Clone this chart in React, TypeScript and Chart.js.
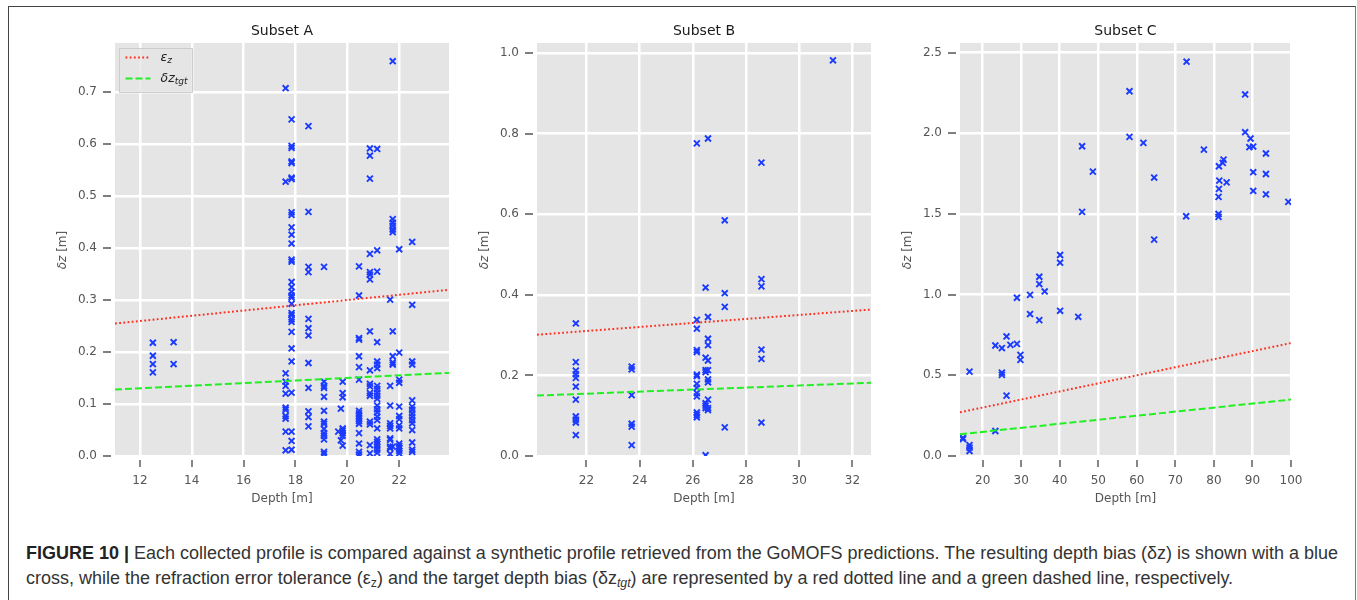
import React, { useEffect, useLayoutEffect, useRef } from "react";
import { Chart, registerables } from "chart.js";

Chart.register(...registerables);

// ---------------- data ----------------
// Subset A: depth columns and the depth biases recorded at each
const A_DEPTHS = [12.5, 13.3, 17.62, 17.85, 18.5, 19.1, 19.65, 19.75, 19.82, 20.45, 20.87, 21.15, 21.65, 21.75, 22.0, 22.5];
const A_BIAS = [
  [0.218, 0.193, 0.177, 0.161],
  [0.219, 0.177],
  [0.708, 0.528, 0.159, 0.143, 0.135, 0.12, 0.093, 0.089, 0.077, 0.072, 0.047, 0.011],
  [0.648, 0.597, 0.593, 0.567, 0.564, 0.536, 0.533, 0.469, 0.464, 0.44, 0.426, 0.409, 0.378, 0.374, 0.335, 0.325, 0.316, 0.309, 0.305, 0.293, 0.275, 0.271, 0.263, 0.258, 0.239, 0.207, 0.182, 0.122, 0.047, 0.029, 0.012],
  [0.635, 0.47, 0.364, 0.354, 0.264, 0.246, 0.232, 0.179, 0.131, 0.086, 0.075, 0.057],
  [0.364, 0.143, 0.135, 0.131, 0.114, 0.087, 0.066, 0.062, 0.052, 0.044, 0.039, 0.032, 0.008, 0.004],
  [0.047],
  [0.091, 0.03],
  [0.143, 0.121, 0.113, 0.053, 0.049, 0.044, 0.039, 0.02],
  [0.365, 0.309, 0.227, 0.224, 0.192, 0.171, 0.147, 0.087, 0.082, 0.077, 0.072, 0.067, 0.062, 0.044, 0.024, 0.008, 0.003],
  [0.592, 0.578, 0.534, 0.389, 0.354, 0.349, 0.34, 0.24, 0.165, 0.139, 0.134, 0.121, 0.116, 0.066, 0.061, 0.021, 0.005],
  [0.591, 0.396, 0.355, 0.219, 0.182, 0.176, 0.169, 0.135, 0.129, 0.122, 0.116, 0.11, 0.097, 0.09, 0.084, 0.076, 0.069, 0.053, 0.032, 0.027, 0.023, 0.018, 0.012, 0.006],
  [0.301, 0.135, 0.097, 0.063, 0.058, 0.053, 0.034, 0.031, 0.018, 0.015, 0.004],
  [0.76, 0.456, 0.449, 0.443, 0.436, 0.431, 0.24, 0.192, 0.18, 0.176, 0.018],
  [0.398, 0.199, 0.147, 0.141, 0.095, 0.077, 0.071, 0.059, 0.053, 0.024, 0.019, 0.015, 0.01, 0.005],
  [0.412, 0.291, 0.182, 0.176, 0.107, 0.095, 0.089, 0.082, 0.076, 0.069, 0.063, 0.05, 0.026, 0.012, 0.008],
];
const A_X_RANGE = [11.04, 23.92];
const A_Y_RANGE = [0, 0.795];
const A_XTICKS = [12, 14, 16, 18, 20, 22];
const A_YTICKS = [0, 0.1, 0.2, 0.3, 0.4, 0.5, 0.6, 0.7];
const A_EPS = [0.255, 0.32];
const A_TGT = [0.128, 0.16];

// Subset B
const B_DEPTHS = [21.6, 23.7, 26.15, 26.48, 26.57, 27.2, 28.58, 31.27];
const B_BIAS = [
  [0.329, 0.233, 0.212, 0.203, 0.194, 0.172, 0.14, 0.098, 0.09, 0.083, 0.052],
  [0.222, 0.215, 0.151, 0.08, 0.073, 0.027],
  [0.776, 0.338, 0.316, 0.263, 0.258, 0.202, 0.198, 0.179, 0.169, 0.156, 0.148, 0.108, 0.102, 0.096],
  [0.418, 0.244, 0.213, 0.208, 0.131, 0.125, 0.119, 0.002],
  [0.788, 0.345, 0.291, 0.275, 0.237, 0.213, 0.19, 0.183, 0.14, 0.119, 0.114],
  [0.585, 0.404, 0.37, 0.071],
  [0.728, 0.439, 0.421, 0.264, 0.241, 0.083],
  [0.982],
];
const B_X_RANGE = [20.14, 32.7];
const B_Y_RANGE = [0, 1.025];
const B_XTICKS = [22, 24, 26, 28, 30, 32];
const B_YTICKS = [0, 0.2, 0.4, 0.6, 0.8, 1.0];
const B_EPS = [0.301, 0.3635];
const B_TGT = [0.15, 0.1817];

// Subset C
const C_DEPTH = [72.9, 58.1, 88.1, 58.1, 88.1, 89.5, 89.2, 90.2, 45.8, 61.7, 77.4, 93.5, 48.6, 64.5, 82.5, 82.3, 81.3, 81.4, 83.3, 81.3, 81.2, 90.2, 90.2, 93.5, 93.5, 99.3, 45.8, 72.8, 81.2, 81.2, 64.5, 40.1, 40.1, 34.7, 34.7, 36.1, 32.3, 28.9, 32.3, 34.7, 40.1, 44.8, 23.3, 25.0, 26.2, 27.2, 28.9, 29.8, 29.8, 16.6, 25.0, 25.0, 26.2, 23.3, 14.9, 14.9, 16.6, 16.6, 16.6];
const C_BIAS = [2.444, 2.261, 2.241, 1.978, 2.007, 1.968, 1.914, 1.918, 1.92, 1.941, 1.899, 1.875, 1.763, 1.726, 1.837, 1.817, 1.796, 1.707, 1.696, 1.656, 1.606, 1.759, 1.643, 1.748, 1.622, 1.575, 1.513, 1.486, 1.5, 1.482, 1.341, 1.246, 1.198, 1.111, 1.066, 1.02, 0.999, 0.981, 0.88, 0.842, 0.9, 0.863, 0.685, 0.669, 0.741, 0.689, 0.695, 0.627, 0.596, 0.523, 0.517, 0.503, 0.374, 0.155, 0.112, 0.105, 0.068, 0.052, 0.031];
const C_X_RANGE = [14.13, 100];
const C_Y_RANGE = [0, 2.56];
const C_XTICKS = [20, 30, 40, 50, 60, 70, 80, 90, 100];
const C_YTICKS = [0, 0.5, 1.0, 1.5, 2.0, 2.5];
const C_EPS = [0.271, 0.7];
const C_TGT = [0.135, 0.35];

const TITLES = ["Subset A", "Subset B", "Subset C"];
const LEGEND_LABELS = [
  { main: "ε", sub: "z" },
  { main: "δz", sub: "tgt" },
];

// ---------------- styling ----------------
const BLUE = "#1a3aff";
const RED = "#ff2e1f";
const GREEN = "#22f022";
const TICK_GRAY = "#555555";
const FONT = '"DejaVu Sans", Verdana, sans-serif';

const decorPlugin = {
  id: "decor",
  beforeDraw(chart: any) {
    const { ctx, chartArea: ca } = chart;
    ctx.save();
    ctx.fillStyle = "#e5e5e5";
    ctx.fillRect(ca.left, ca.top, ca.right - ca.left, ca.bottom - ca.top);
    ctx.restore();
  },
  afterDraw(chart: any, _args: any, opts: any) {
    const { ctx, chartArea: ca, scales } = chart;
    ctx.save();
    ctx.strokeStyle = TICK_GRAY;
    ctx.lineWidth = 1.4;
    ctx.beginPath();
    scales.x.ticks.forEach((t: any) => {
      const p = Math.round(scales.x.getPixelForValue(t.value));
      ctx.moveTo(p, ca.bottom + 4);
      ctx.lineTo(p, ca.bottom + 11);
    });
    scales.y.ticks.forEach((t: any) => {
      const p = Math.round(scales.y.getPixelForValue(t.value));
      ctx.moveTo(ca.left - 4, p);
      ctx.lineTo(ca.left - 12, p);
    });
    ctx.stroke();

    if (opts && opts.legend) {
      const bx = ca.left + 4.5;
      const by = ca.top + 5.5;
      const bw = 73;
      const bh = 44;
      ctx.fillStyle = "rgba(229,229,229,0.8)";
      ctx.strokeStyle = "#cccccc";
      ctx.lineWidth = 1;
      ctx.beginPath();
      ctx.rect(bx, by, bw, bh);
      ctx.fill();
      ctx.stroke();
      const lineSets = chart.data.datasets.filter((d: any) => d.showLine);
      lineSets.forEach((ds: any, i: number) => {
        const y = by + 9 + i * 21;
        ctx.save();
        ctx.strokeStyle = ds.borderColor;
        ctx.lineWidth = ds.borderWidth;
        ctx.setLineDash(ds.borderDash || []);
        ctx.beginPath();
        ctx.moveTo(bx + 6, y);
        ctx.lineTo(bx + 31, y);
        ctx.stroke();
        ctx.restore();
        const lab = LEGEND_LABELS[i];
        ctx.fillStyle = "#222222";
        ctx.textBaseline = "middle";
        ctx.textAlign = "left";
        ctx.font = `italic 12.5px ${FONT}`;
        ctx.fillText(lab.main, bx + 41, y);
        const w = ctx.measureText(lab.main).width;
        ctx.font = `italic 9px ${FONT}`;
        ctx.fillText(lab.sub, bx + 41 + w, y + 3.5);
      });
    }
    ctx.restore();
  },
};

type PanelProps = {
  left: number;
  plotWidth: number;
  xRange: number[];
  yRange: number[];
  xTicks: number[];
  yTicks: number[];
  points: { x: number; y: number }[];
  eps: number[];
  tgt: number[];
  legend?: boolean;
};

const Y_AXIS_W = 75;
const PAD_TOP = 43;
const PAD_RIGHT = 40;
const CANVAS_H = 520;
const X_AXIS_H = 64;

function Panel(p: PanelProps) {
  const ref = useRef<HTMLCanvasElement | null>(null);
  useEffect(() => {
    if (!ref.current) return;
    const lineX = p.xRange;
    const chart = new Chart(ref.current, {
      type: "scatter",
      data: {
        datasets: [
          {
            label: "ε_z",
            data: lineX.map((x, i) => ({ x, y: p.eps[i] })),
            showLine: true,
            borderColor: RED,
            borderWidth: 2,
            borderDash: [1.8, 2.4],
            pointRadius: 0,
            clip: 0,
          } as any,
          {
            label: "δz_tgt",
            data: lineX.map((x, i) => ({ x, y: p.tgt[i] })),
            showLine: true,
            borderColor: GREEN,
            borderWidth: 2,
            borderDash: [7, 3],
            pointRadius: 0,
            clip: 0,
          } as any,
          {
            label: "δz",
            data: p.points,
            showLine: false,
            pointStyle: "crossRot",
            pointRadius: 4.2,
            pointBorderWidth: 1.9,
            borderColor: BLUE,
            backgroundColor: BLUE,
            clip: 0,
          } as any,
        ],
      },
      options: {
        animation: false,
        responsive: false,
        maintainAspectRatio: false,
        devicePixelRatio: 1,
        layout: { padding: { left: 0, top: PAD_TOP, right: PAD_RIGHT, bottom: 0 } },
        plugins: {
          legend: { display: false },
          tooltip: { enabled: false },
          decor: { legend: !!p.legend },
        } as any,
        scales: {
          x: {
            type: "linear",
            min: p.xRange[0],
            max: p.xRange[1],
            afterBuildTicks: (s: any) => {
              s.ticks = p.xTicks.map((v) => ({ value: v }));
            },
            afterFit: (s: any) => {
              s.height = X_AXIS_H;
            },
            grid: { color: "#ffffff", lineWidth: 2.5, drawTicks: false },
            border: { display: false },
            ticks: {
              color: TICK_GRAY,
              font: { family: FONT, size: 12 },
              padding: 17.5,
              maxRotation: 0,
              autoSkip: false,
              callback: (v: any) => String(v),
            },
          },
          y: {
            type: "linear",
            min: p.yRange[0],
            max: p.yRange[1],
            afterBuildTicks: (s: any) => {
              s.ticks = p.yTicks.map((v) => ({ value: v }));
            },
            afterFit: (s: any) => {
              s.width = Y_AXIS_W;
            },
            grid: { color: "#ffffff", lineWidth: 2.5, drawTicks: false },
            border: { display: false },
            ticks: {
              color: TICK_GRAY,
              font: { family: FONT, size: 12 },
              padding: 18,
              autoSkip: false,
              callback: (v: any) => Number(v).toFixed(1),
            },
          },
        },
      } as any,
      plugins: [decorPlugin as any],
    });
    return () => chart.destroy();
  }, []);
  const w = Y_AXIS_W + p.plotWidth + PAD_RIGHT;
  return (
    <canvas
      ref={ref}
      width={w}
      height={CANVAS_H}
      style={{ position: "absolute", left: p.left - Y_AXIS_W, top: 0, width: w, height: CANVAS_H }}
    />
  );
}

function columnsToPoints(depths: number[], bias: number[][]) {
  const pts: { x: number; y: number }[] = [];
  depths.forEach((d, i) => bias[i].forEach((b) => pts.push({ x: d, y: b })));
  return pts;
}

const PLOTS = [
  { left: 115, width: 334 },
  { left: 537, width: 334 },
  { left: 960, width: 331 },
];

export default function App() {
  const cap1 = useRef<HTMLDivElement | null>(null);
  const cap2 = useRef<HTMLDivElement | null>(null);
  useLayoutEffect(() => {
    if (!cap1.current || !cap2.current) return;
    const w = cap1.current.getBoundingClientRect().width;
    const k = 1312 / w;
    cap1.current.style.transform = `scaleX(${k})`;
    cap2.current.style.transform = `scaleX(${k})`;
  }, []);

  const labelStyle: React.CSSProperties = {
    position: "absolute",
    fontFamily: FONT,
    fontSize: 12,
    lineHeight: "12px",
    color: TICK_GRAY,
    whiteSpace: "nowrap",
  };
  const capStyle: React.CSSProperties = {
    position: "absolute",
    left: 26,
    whiteSpace: "nowrap",
    fontFamily: '"Liberation Sans Narrow", "Liberation Sans", Arial, sans-serif',
    fontSize: 17.5,
    lineHeight: "22px",
    color: "#333333",
    transformOrigin: "0 0",
  };

  const pointsA = columnsToPoints(A_DEPTHS, A_BIAS);
  const pointsB = columnsToPoints(B_DEPTHS, B_BIAS);
  const pointsC = C_DEPTH.map((d, i) => ({ x: d, y: C_BIAS[i] }));

  return (
    <div style={{ position: "absolute", left: 0, top: 0, width: 1357, height: 600, overflow: "hidden", background: "#ffffff" }}>
      <div
        style={{
          position: "absolute",
          left: 8,
          top: 6,
          width: 1348,
          height: 700,
          boxSizing: "border-box",
          borderTop: "1px solid #444",
          borderLeft: "1px solid #444",
          borderRight: "1px solid #777",
        }}
      />
      <Panel left={PLOTS[0].left} plotWidth={PLOTS[0].width} xRange={A_X_RANGE} yRange={A_Y_RANGE} xTicks={A_XTICKS} yTicks={A_YTICKS} points={pointsA} eps={A_EPS} tgt={A_TGT} legend />
      <Panel left={PLOTS[1].left} plotWidth={PLOTS[1].width} xRange={B_X_RANGE} yRange={B_Y_RANGE} xTicks={B_XTICKS} yTicks={B_YTICKS} points={pointsB} eps={B_EPS} tgt={B_TGT} />
      <Panel left={PLOTS[2].left} plotWidth={PLOTS[2].width} xRange={C_X_RANGE} yRange={C_Y_RANGE} xTicks={C_XTICKS} yTicks={C_YTICKS} points={pointsC} eps={C_EPS} tgt={C_TGT} />

      {PLOTS.map((pl, i) => (
        <React.Fragment key={i}>
          <div
            style={{
              position: "absolute",
              left: pl.left,
              width: pl.width,
              top: 23,
              textAlign: "center",
              fontFamily: FONT,
              fontSize: 14,
              lineHeight: "14px",
              color: "#1a1a1a",
              whiteSpace: "nowrap",
            }}
          >
            {TITLES[i]}
          </div>
          <div style={{ ...labelStyle, left: pl.left, width: pl.width, top: 492, textAlign: "center" }}>Depth [m]</div>
          <div
            style={{
              ...labelStyle,
              left: pl.left - 53 - 40,
              width: 80,
              top: 243.5,
              textAlign: "center",
              transform: "rotate(-90deg)",
              transformOrigin: "50% 50%",
            }}
          >
            <i>δz</i> [m]
          </div>
        </React.Fragment>
      ))}

      <div ref={cap1} style={{ ...capStyle, top: 542 }}>
        <b style={{ color: "#222" }}>FIGURE 10 |</b> Each collected profile is compared against a synthetic profile retrieved from the GoMOFS predictions. The resulting depth bias (δz) is shown with a blue
      </div>
      <div ref={cap2} style={{ ...capStyle, top: 567 }}>
        cross, while the refraction error tolerance (ε<sub style={{ fontSize: 12, lineHeight: 0, verticalAlign: "-3px" }}>z</sub>) and the target depth bias (δz
        <sub style={{ fontSize: 12, lineHeight: 0, verticalAlign: "-3px" }}>
          <i>tgt</i>
        </sub>
        ) are represented by a red dotted line and a green dashed line, respectively.
      </div>
    </div>
  );
}
